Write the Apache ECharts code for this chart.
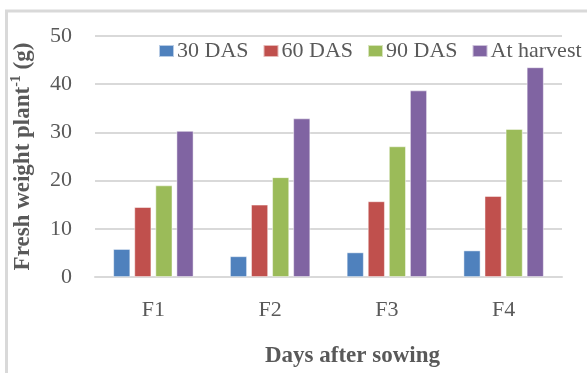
<!DOCTYPE html>
<html>
<head>
<meta charset="utf-8">
<script src="https://cdn.jsdelivr.net/npm/echarts@6/dist/echarts.min.js"></script>
<style>
  html, body { margin: 0; padding: 0; background: #fff; }
  #chart { width: 587px; height: 373px; }
</style>
</head>
<body>
<div id="chart"></div>
<script>
// Fresh weight per plant by fertiliser treatment and sampling date
var categories = ['F1', 'F2', 'F3', 'F4'];
var seriesNames = ['30 DAS', '60 DAS', '90 DAS', 'At harvest'];
var das30 = [5.8, 4.3, 5.1, 5.5];
var das60 = [14.5, 15.0, 15.7, 16.8];
var das90 = [19.0, 20.7, 27.1, 30.7];
var atHarvest = [30.3, 32.9, 38.7, 43.5];
var yTicks = { min: 0, max: 50, interval: 10 };

var colors = ['#4f81bd', '#c0504d', '#9bbb59', '#8064a2'];
var values = [das30, das60, das90, atHarvest];
var serif = '"Liberation Serif", "Times New Roman", serif';
var textGray = '#595959';

var chart = echarts.init(document.getElementById('chart'), null, { renderer: 'canvas' });

var series = seriesNames.map(function (name, i) {
  return {
    name: name,
    type: 'bar',
    data: values[i],
    barWidth: 17,
    barGap: '24%',
    itemStyle: { color: colors[i], borderColor: 'rgba(255,255,255,0.6)', borderWidth: 0.8 }
  };
});

chart.setOption({
  animation: false,
  color: colors,
  graphic: [{
    type: 'rect',
    shape: { x: 6.5, y: 11, width: 620, height: 420 },
    style: { fill: 'none', stroke: '#d9d9d9', lineWidth: 3 },
    silent: true,
    z: -1
  }],
  legend: {
    data: seriesNames,
    left: 153,
    top: 35,
    itemWidth: 15,
    itemHeight: 12,
    itemGap: 14,
    icon: 'rect',
    textStyle: { fontFamily: serif, fontSize: 22, color: textGray, padding: [0, 0, 0, -2] }
  },
  grid: { left: 95, right: 25, top: 36, bottom: 94, containLabel: false },
  xAxis: {
    type: 'category',
    data: categories,
    axisLine: { show: true, lineStyle: { color: '#d9d9d9', width: 2 } },
    axisTick: { show: false },
    axisLabel: { fontFamily: serif, fontSize: 22, color: textGray, margin: 22 },
    name: 'Days after sowing',
    nameLocation: 'middle',
    nameGap: 68,
    nameTextStyle: {
      fontFamily: serif, fontSize: 23, fontWeight: 'bold', color: textGray,
      padding: [0, 0, 0, 48]
    }
  },
  yAxis: {
    type: 'value',
    min: yTicks.min,
    max: yTicks.max,
    interval: yTicks.interval,
    axisLine: { show: false },
    axisTick: { show: false },
    splitLine: { lineStyle: { color: '#d9d9d9', width: 2 } },
    axisLabel: { fontFamily: serif, fontSize: 22, color: textGray, margin: 23 },
    name: '{m|Fresh weight plant}{s|-1}{m| (g)}',
    nameLocation: 'middle',
    nameRotate: 90,
    nameGap: 60,
    nameTextStyle: {
      rich: {
        m: { fontFamily: serif, fontSize: 23, fontWeight: 'bold', color: textGray, verticalAlign: 'bottom', lineHeight: 26 },
        s: { fontFamily: serif, fontSize: 14, fontWeight: 'bold', color: textGray, verticalAlign: 'top', lineHeight: 26 }
      }
    }
  },
  series: series
});
</script>
</body>
</html>
